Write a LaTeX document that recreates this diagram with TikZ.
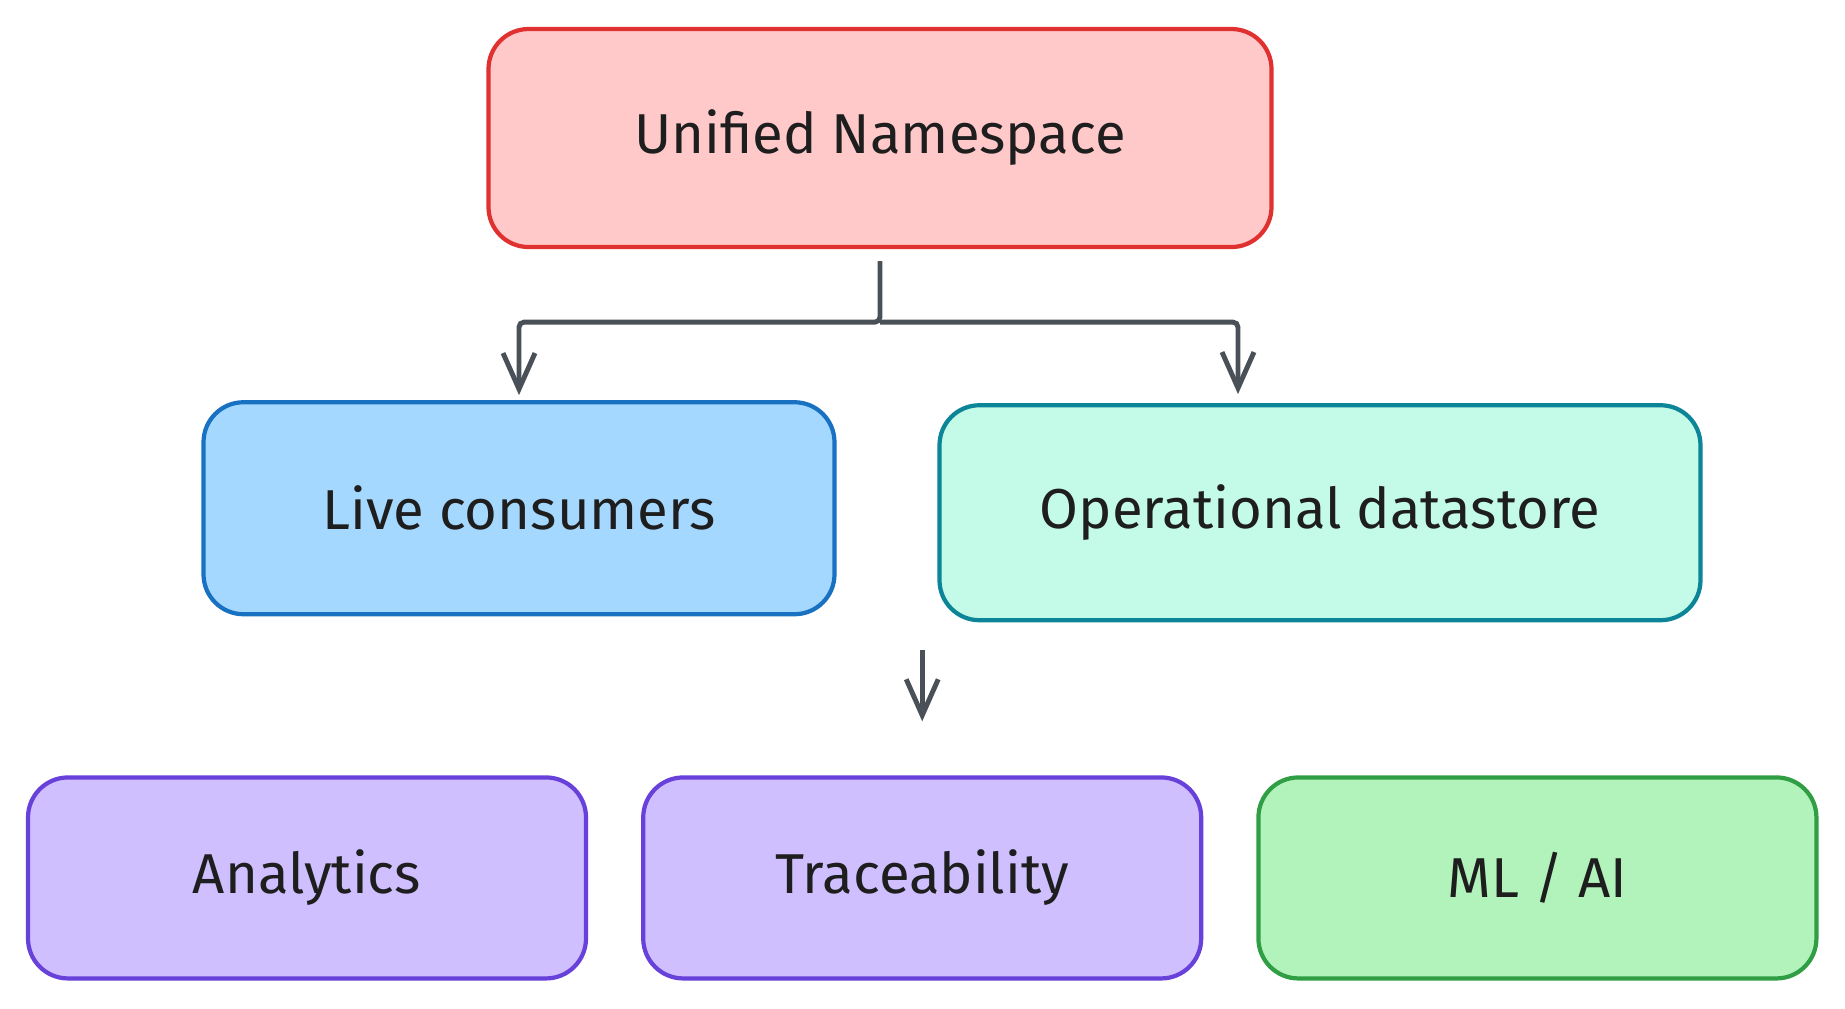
\documentclass[tikz,border=0pt]{standalone}
\usepackage{fontspec}
\setmainfont{Fira Sans}
\usepackage{tikz}
\usetikzlibrary{arrows.meta}
\usetikzlibrary{positioning}
\definecolor{unsfill}{HTML}{FFC9C9}
\definecolor{unsline}{HTML}{E03131}
\definecolor{livefill}{HTML}{A5D8FF}
\definecolor{liveline}{HTML}{1971C2}
\definecolor{odsfill}{HTML}{C3FAE8}
\definecolor{odsline}{HTML}{0C8599}
\definecolor{usefill}{HTML}{D0BFFF}
\definecolor{useline}{HTML}{6741D9}
\definecolor{mlfill}{HTML}{B2F2BB}
\definecolor{mlline}{HTML}{2F9E44}
\definecolor{arrowgrey}{HTML}{495057}
\definecolor{textdark}{HTML}{1E1E1E}
\tikzset{box/.style={draw, rounded corners=4mm, line width=1.2pt, text centered, text=textdark, minimum height=2.01cm, minimum width=5.58cm, font=\fontsize{16}{20}\selectfont}}
\tikzset{line/.style={draw, line width=1.4pt, arrowgrey, rounded corners=0.5mm, -{Straight Barb[length=3.6mm,width=3.2mm]}}}

\begin{document}
\begin{tikzpicture}[x=0.1mm,y=-0.1mm]
\useasboundingbox (0,0) rectangle (1845,1008);
\node [box, fill=unsfill, draw=unsline, minimum width=7.83cm, minimum height=2.18cm]          (uns)   at (880,138) {Unified Namespace};
\node [box, fill=livefill, draw=liveline, minimum width=6.31cm, minimum height=2.12cm, below=15.1mm of uns, xshift=-36.1mm]   (live)  {Live consumers};
\node [box, fill=odsfill, draw=odsline, minimum width=7.61cm, minimum height=2.15cm, below=15.4mm of uns, xshift=44mm]      (ods)   {Operational datastore};
\node [box, fill=usefill, draw=useline, below=15.9mm of live, xshift=-21.2mm]   (ana)   {Analytics};
\node [box, fill=usefill, draw=useline, right=5.3mm of ana]     (trace) {Traceability};
\node [box, fill=mlfill, draw=mlline, right=5.3mm of trace]     (ml)    {ML / AI};
%
\coordinate (fork) at ([yshift=-7.3mm]uns.south);
\coordinate (gaptop) at ([yshift=12.5mm]trace.north);
\coordinate (gapend) at ([yshift=5.4mm]trace.north);
\path [line] ([yshift=-1.2mm]uns.south) -- (fork) -| ([yshift=0.5mm]live.north);
\path [line] (fork) -| ([xshift=-8.2mm, yshift=0.9mm]ods.north);
\path [line] (gaptop) -- (gapend);
\end{tikzpicture}
\end{document}
